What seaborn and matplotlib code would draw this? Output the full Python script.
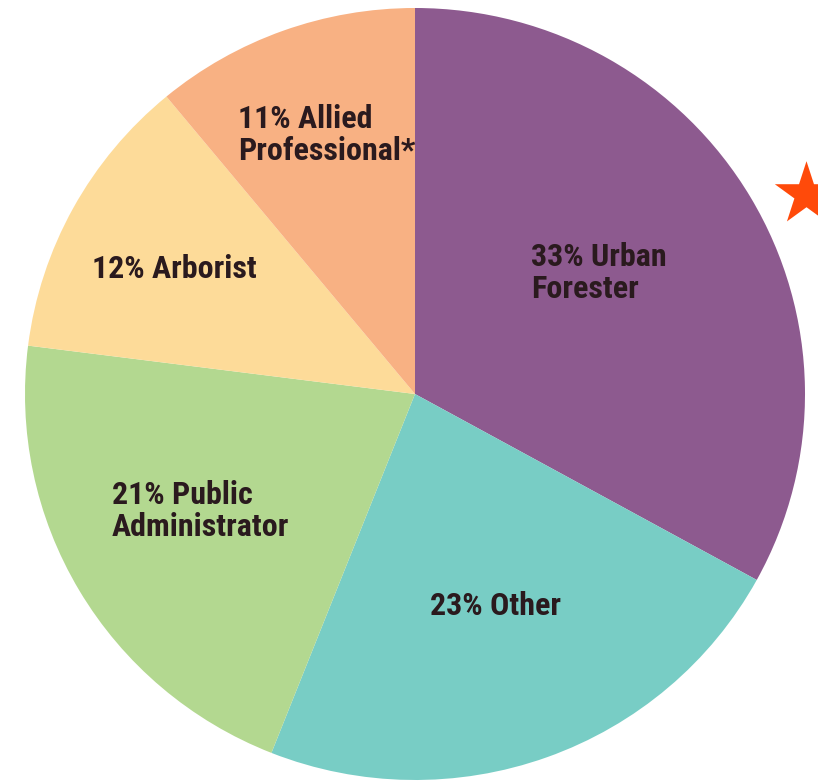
import numpy as np, pandas as pd
import seaborn as sns
import matplotlib.pyplot as plt

sns.set_theme(style="white")
plt.rcParams['font.family'] = ['Roboto Condensed', 'Roboto', 'DejaVu Sans']

# data
categories = ["Urban\nForester", "Other", "Public\nAdministrator", "Arborist", "Allied\nProfessional*"]
shares = [33, 23, 21, 12, 11]
colors = ["#8D5A8F", "#78CDC5", "#B3D890", "#FDDB99", "#F8B183"]

# label anchors in figure pixels (left edge, vertical centre)
label_pos = [(531, 273), (430, 606), (112, 511), (92, 269), (238, 135)]

W, H = 818, 784
fig = plt.figure(figsize=(W / 100, H / 100), dpi=100)
cx, cy, rx, ry = 415, 394, 390, 386
ax = fig.add_axes([(cx - rx) / W, (H - cy - ry) / H, 2 * rx / W, 2 * ry / H])
ax.pie(shares, colors=colors, startangle=90, counterclock=False, radius=1,
       wedgeprops=dict(linewidth=0))
ax.set_xlim(-1, 1)
ax.set_ylim(-1, 1)
ax.set_aspect("auto")
ax.axis("off")

for cat, val, (px, py) in zip(categories, shares, label_pos):
    fig.text(px / W, 1 - py / H, f"{val}% {cat}", ha="left", va="center", fontsize=23,
             fontweight="bold", color="#2A1A1E", linespacing=1.08)

# red star at right
ov = fig.add_axes([0, 0, 1, 1])
ov.set_xlim(0, W)
ov.set_ylim(H, 0)
ov.axis("off")
ov.scatter([806], [194], marker="*", s=2300, color="#FF4A0A", linewidths=0, clip_on=False)

fig.savefig("out.png", dpi=100)
